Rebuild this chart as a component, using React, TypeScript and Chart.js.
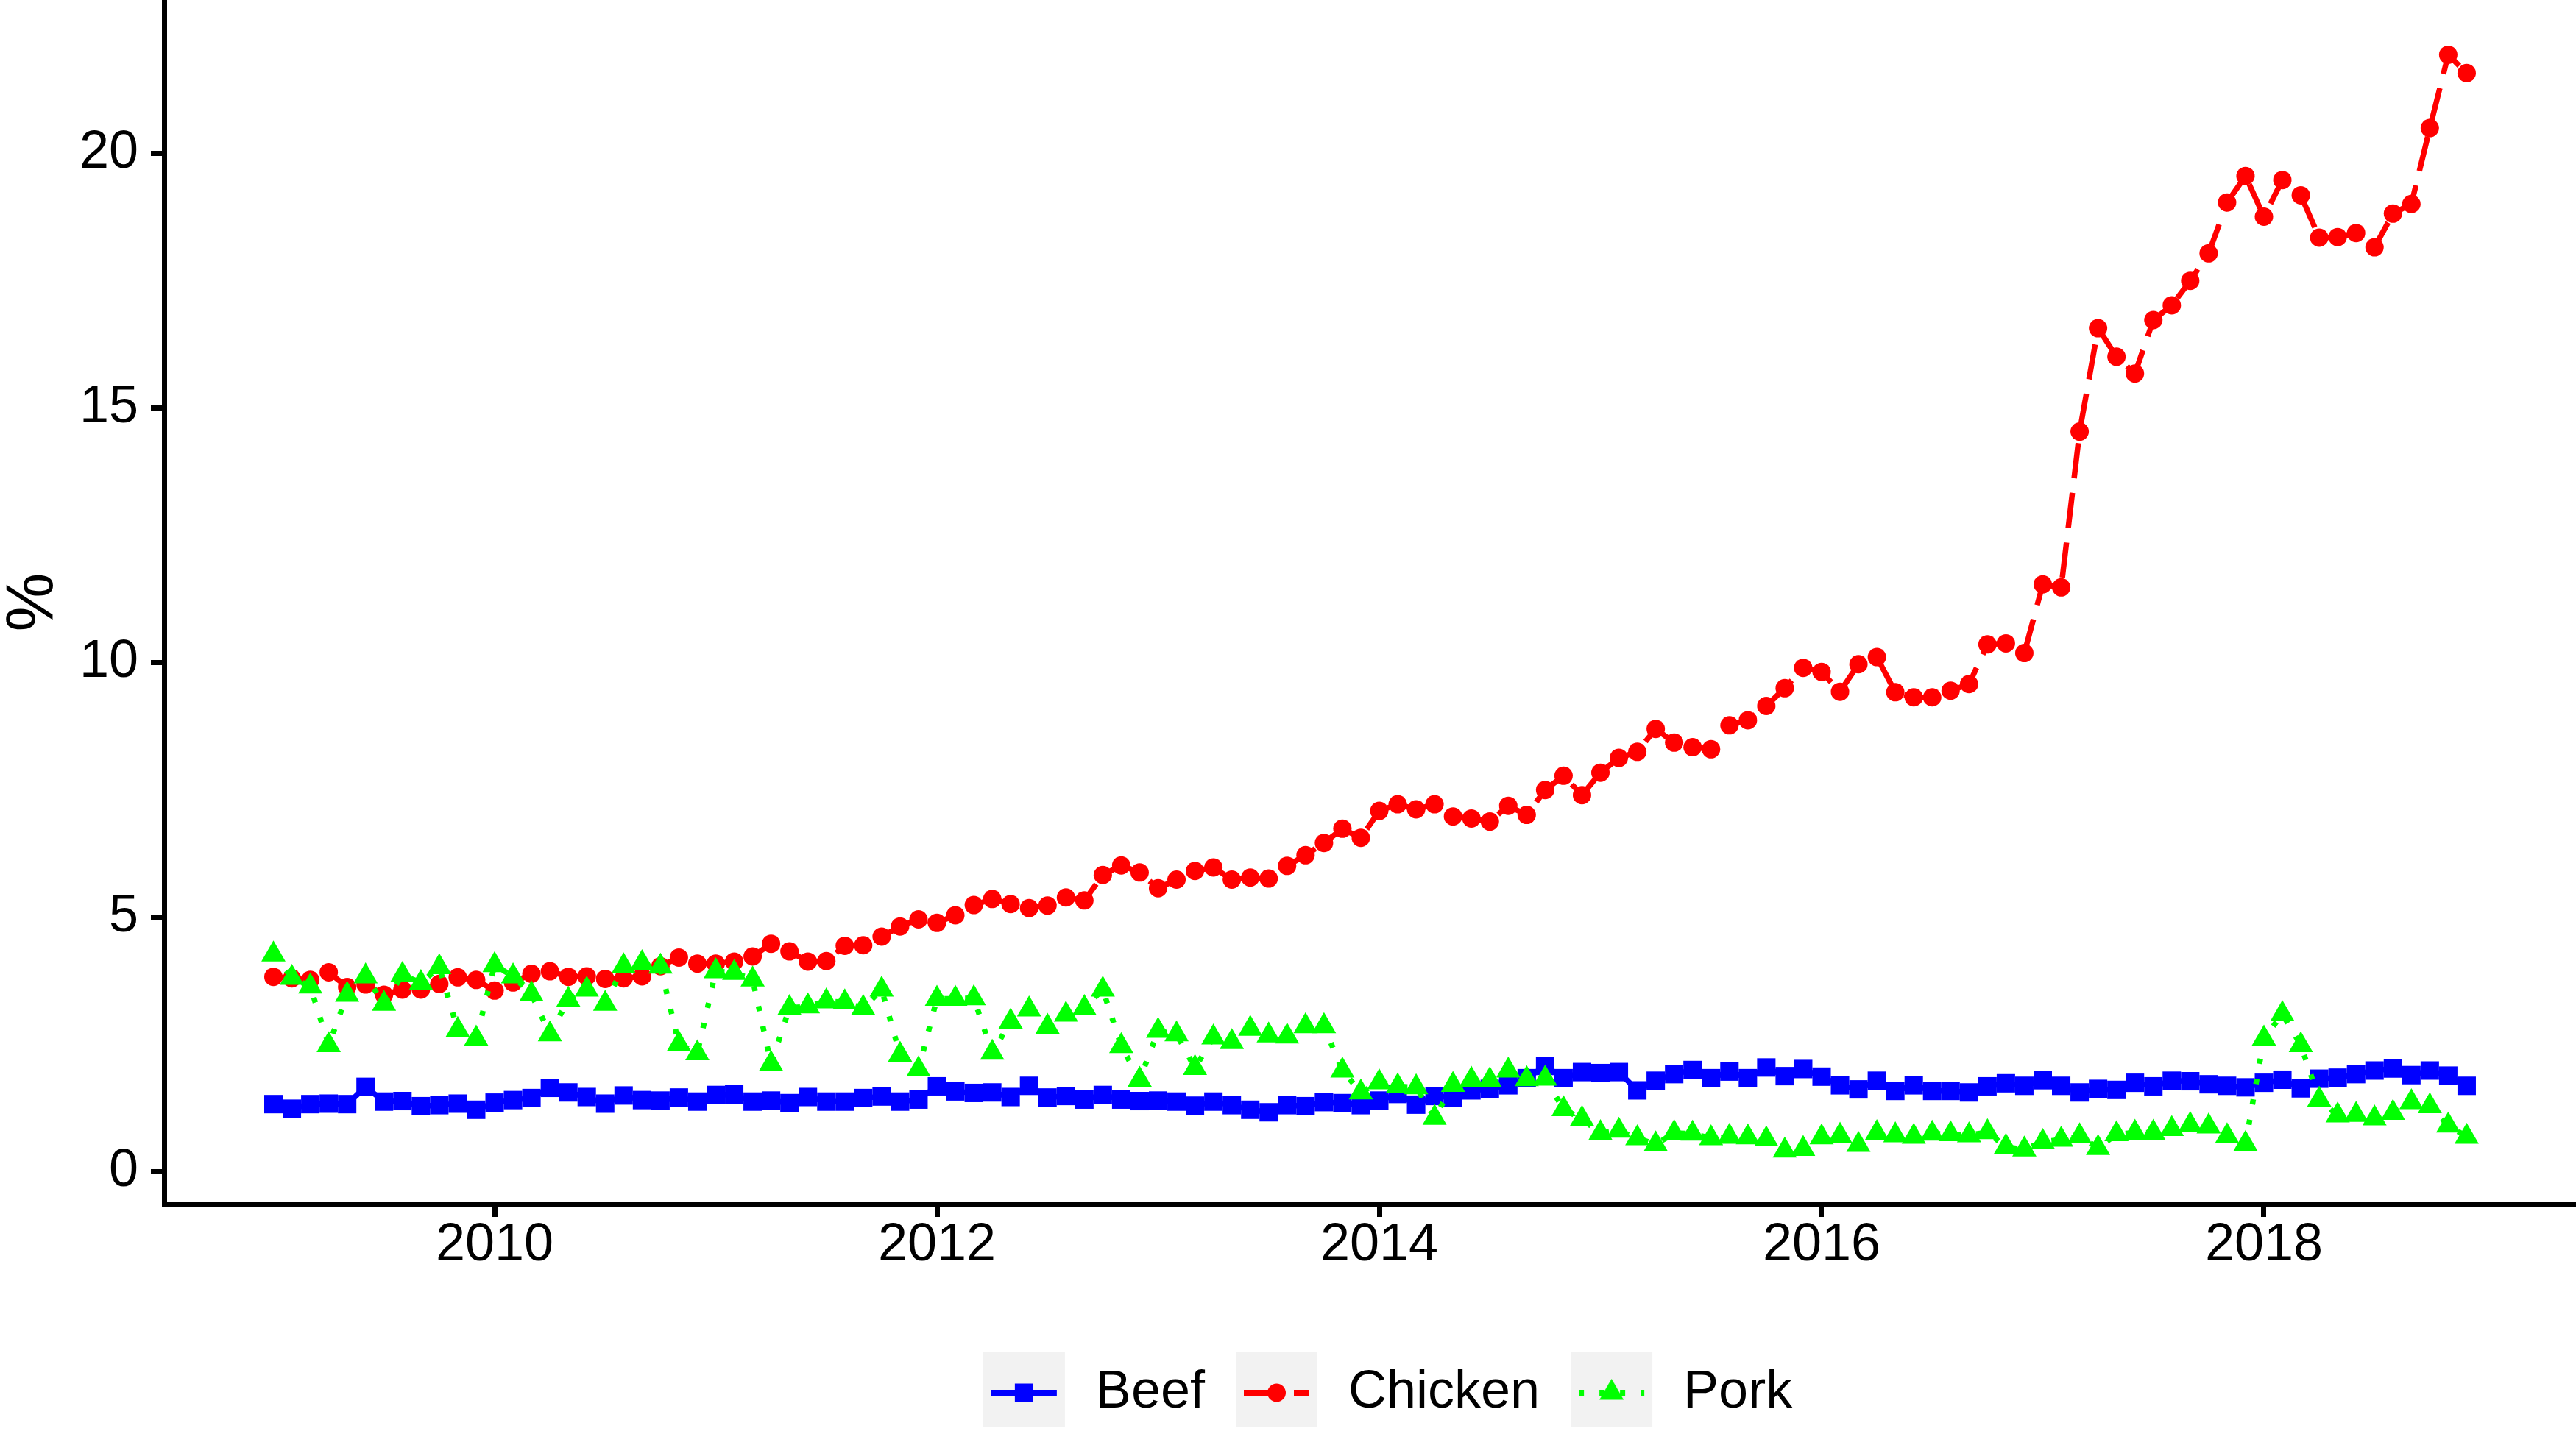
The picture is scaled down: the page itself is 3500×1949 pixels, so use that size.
import React, { useEffect, useRef } from 'react';
import { Chart, registerables } from 'chart.js';

Chart.register(...registerables);

// Monthly observations, Jan 2009 .. Dec 2018 (x = year + month/12)
const months: number[] = Array.from({ length: 120 }, (_, i) => 2009 + Math.floor(i / 12) + (i % 12) / 12);

const seriesNames = ['Beef', 'Chicken', 'Pork'];

const beef = [
  1.32, 1.23, 1.32, 1.33, 1.32, 1.66, 1.37, 1.38, 1.28, 1.30,
  1.33, 1.21, 1.35, 1.40, 1.44, 1.64, 1.55, 1.46, 1.33, 1.49,
  1.40, 1.39, 1.45, 1.37, 1.50, 1.51, 1.37, 1.39, 1.34, 1.46,
  1.37, 1.37, 1.44, 1.47, 1.37, 1.41, 1.67, 1.57, 1.54, 1.55,
  1.46, 1.68, 1.45, 1.48, 1.41, 1.50, 1.41, 1.38, 1.39, 1.37,
  1.29, 1.37, 1.30, 1.21, 1.16, 1.30, 1.28, 1.36, 1.34, 1.30,
  1.39, 1.52, 1.31, 1.48, 1.45, 1.59, 1.62, 1.69, 1.83, 2.07,
  1.83, 1.95, 1.93, 1.95, 1.59, 1.78, 1.91, 1.99, 1.83, 1.96,
  1.83, 2.04, 1.87, 2.01, 1.86, 1.69, 1.61, 1.78, 1.58, 1.69,
  1.58, 1.58, 1.55, 1.67, 1.73, 1.68, 1.79, 1.68, 1.55, 1.62,
  1.60, 1.74, 1.67, 1.78, 1.77, 1.71, 1.68, 1.65, 1.74, 1.80,
  1.63, 1.82, 1.84, 1.91, 1.98, 2.02, 1.89, 1.98, 1.88, 1.68,
];

const chicken = [
  3.82, 3.79, 3.76, 3.91, 3.62, 3.67, 3.47, 3.57, 3.57, 3.68,
  3.81, 3.76, 3.55, 3.71, 3.88, 3.93, 3.82, 3.83, 3.78, 3.79,
  3.83, 4.03, 4.20, 4.08, 4.08, 4.12, 4.22, 4.47, 4.32, 4.12,
  4.13, 4.43, 4.44, 4.61, 4.81, 4.95, 4.88, 5.03, 5.23, 5.35,
  5.25, 5.17, 5.22, 5.38, 5.32, 5.82, 6.01, 5.87, 5.56, 5.73,
  5.90, 5.97, 5.73, 5.77, 5.75, 6.00, 6.21, 6.45, 6.73, 6.55,
  7.08, 7.21, 7.11, 7.21, 6.97, 6.93, 6.87, 7.18, 7.00, 7.49,
  7.77, 7.39, 7.83, 8.12, 8.24, 8.69, 8.42, 8.33, 8.29, 8.76,
  8.86, 9.14, 9.49, 9.89, 9.81, 9.42, 9.96, 10.10, 9.41, 9.31,
  9.31, 9.44, 9.57, 10.35, 10.37, 10.18, 11.53, 11.47, 14.53, 16.56,
  16.00, 15.67, 16.72, 17.01, 17.49, 18.03, 19.03, 19.55, 18.75, 19.47,
  19.17, 18.34, 18.35, 18.43, 18.15, 18.81, 19.00, 20.49, 21.93, 21.57,
];

const pork = [
  4.26, 3.80, 3.63, 2.48, 3.47, 3.83, 3.29, 3.86, 3.70, 4.01,
  2.78, 2.61, 4.05, 3.83, 3.48, 2.69, 3.37, 3.57, 3.29, 4.03,
  4.09, 4.02, 2.50, 2.32, 3.93, 3.90, 3.77, 2.11, 3.21, 3.24,
  3.34, 3.32, 3.21, 3.57, 2.29, 2.00, 3.39, 3.39, 3.40, 2.33,
  2.94, 3.18, 2.84, 3.08, 3.21, 3.57, 2.46, 1.80, 2.76, 2.69,
  2.03, 2.63, 2.54, 2.80, 2.67, 2.65, 2.85, 2.85, 1.98, 1.55,
  1.75, 1.67, 1.65, 1.05, 1.70, 1.80, 1.79, 1.98, 1.81, 1.82,
  1.22, 1.03, 0.75, 0.80, 0.65, 0.53, 0.75, 0.74, 0.65, 0.68,
  0.67, 0.63, 0.41, 0.44, 0.67, 0.70, 0.52, 0.75, 0.71, 0.68,
  0.74, 0.73, 0.71, 0.77, 0.48, 0.43, 0.58, 0.62, 0.69, 0.46,
  0.73, 0.76, 0.76, 0.83, 0.91, 0.88, 0.69, 0.54, 2.61, 3.09,
  2.48, 1.41, 1.10, 1.11, 1.04, 1.15, 1.36, 1.28, 0.90, 0.68,
];

const xTicks = [2010, 2012, 2014, 2016, 2018];
const yTicks = [0, 5, 10, 15, 20];

const FONT = "'Liberation Sans', Arial, Helvetica, sans-serif";
const colors = ['#0000FF', '#FF0000', '#00FF00'];
const dashes: number[][] = [[], [48, 20], [7, 21]];
const markers = ['rect', 'circle', 'triangle'];

function makeKey(color: string, dash: number[], marker: string): HTMLCanvasElement {
  const c = document.createElement('canvas');
  c.width = 117;
  c.height = 110;
  const ctx = c.getContext('2d')!;
  ctx.fillStyle = '#F2F2F2';
  ctx.fillRect(0, 0, 111, 110);
  ctx.strokeStyle = color;
  ctx.lineWidth = 8;
  ctx.lineCap = 'butt';
  ctx.setLineDash(dash);
  ctx.beginPath();
  ctx.moveTo(11, 55);
  ctx.lineTo(100, 55);
  ctx.stroke();
  ctx.setLineDash([]);
  ctx.fillStyle = color;
  const cx = 55.5;
  const cy = 55;
  if (marker === 'rect') {
    ctx.fillRect(cx - 12.5, cy - 12.5, 25, 25);
  } else if (marker === 'circle') {
    ctx.beginPath();
    ctx.arc(cx, cy, 12.5, 0, Math.PI * 2);
    ctx.fill();
  } else {
    const r = 19;
    ctx.beginPath();
    ctx.moveTo(cx, cy - r);
    ctx.lineTo(cx + r * Math.sin((2 * Math.PI) / 3), cy + r / 2);
    ctx.lineTo(cx - r * Math.sin((2 * Math.PI) / 3), cy + r / 2);
    ctx.closePath();
    ctx.fill();
  }
  return c;
}

export default function App() {
  const ref = useRef<HTMLCanvasElement | null>(null);

  useEffect(() => {
    document.body.style.margin = '0';
    const canvas = ref.current;
    if (!canvas) return;

    const keys = seriesNames.map((_, i) => makeKey(colors[i], dashes[i], markers[i]));
    const values = [beef, chicken, pork];
    const radii = [17.7, 12.5, 19];
    const orders = [3, 2, 1];

    const datasets = seriesNames.map((name, i) => ({
      label: name,
      data: months.map((x, j) => ({ x, y: values[i][j] })),
      borderColor: colors[i],
      backgroundColor: colors[i],
      borderWidth: 7.5,
      borderDash: dashes[i],
      borderCapStyle: 'butt' as const,
      pointStyle: markers[i] as any,
      pointRadius: radii[i],
      pointBackgroundColor: colors[i],
      pointBorderColor: colors[i],
      pointBorderWidth: 0,
      tension: 0,
      fill: false,
      order: orders[i],
      clip: false as any,
    }));

    const legendShift = {
      id: 'legendShift',
      afterLayout(chart: any) {
        if (chart.legend) chart.legend.left += 48;
      },
    };

    const chart = new Chart(canvas, {
      type: 'line',
      data: { datasets },
      plugins: [legendShift],
      options: {
        responsive: false,
        maintainAspectRatio: false,
        animation: false,
        devicePixelRatio: 1,
        events: [],
        layout: { autoPadding: false, padding: { top: 0, left: 0, right: 0, bottom: 10 } },
        plugins: {
          tooltip: { enabled: false },
          legend: {
            display: true,
            position: 'bottom',
            fullSize: false,
            labels: {
              usePointStyle: true,
              pointStyleWidth: 117,
              padding: 42,
              color: '#000',
              font: { size: 72, family: FONT },
              generateLabels: (ch: any) =>
                ch.data.datasets.map((ds: any, i: number) => ({
                  text: ds.label,
                  pointStyle: keys[i],
                  fillStyle: 'rgba(0,0,0,0)',
                  strokeStyle: 'rgba(0,0,0,0)',
                  lineWidth: 0,
                  hidden: false,
                  datasetIndex: i,
                  fontColor: '#000',
                })),
            },
          },
        },
        scales: {
          x: {
            type: 'linear',
            min: 2008.5058,
            max: 2019.411,
            grid: {
              drawOnChartArea: false,
              drawTicks: true,
              tickLength: 17,
              lineWidth: 7,
              color: '#000',
            },
            border: { display: true, color: '#000', width: 7 },
            ticks: {
              autoSkip: false,
              maxRotation: 0,
              padding: 0,
              color: '#000',
              font: { size: 72, family: FONT, lineHeight: 1.1 },
              callback: (v: any) => String(v),
            },
            afterBuildTicks: (s: any) => {
              s.ticks = xTicks.map((v) => ({ value: v }));
            },
            afterFit: (s: any) => {
              s.height = 178;
              s.paddingLeft = 0;
              s.paddingRight = 0;
            },
          },
          y: {
            type: 'linear',
            min: -0.65,
            max: 23.006,
            grid: {
              drawOnChartArea: false,
              drawTicks: true,
              tickLength: 18,
              lineWidth: 7,
              color: '#000',
            },
            border: { display: true, color: '#000', width: 7 },
            title: {
              display: true,
              text: '%',
              color: '#000',
              font: { size: 90, family: FONT, lineHeight: 1 },
              padding: { top: 1, bottom: 0 },
            },
            ticks: {
              padding: 17,
              color: '#000',
              font: { size: 72, family: FONT, lineHeight: 1.1 },
              callback: (v: any) => String(v),
            },
            afterBuildTicks: (s: any) => {
              s.ticks = yTicks.map((v) => ({ value: v }));
            },
            afterFit: (s: any) => {
              s.width = 223;
              s.paddingTop = 0;
              s.paddingBottom = 0;
            },
          },
        },
      },
    });

    return () => {
      chart.destroy();
    };
  }, []);

  return (
    <div style={{ width: 3500, height: 1949, position: 'relative', background: '#fff' }}>
      <canvas ref={ref} width={3500} height={1949} style={{ display: 'block', width: 3500, height: 1949 }} />
    </div>
  );
}
